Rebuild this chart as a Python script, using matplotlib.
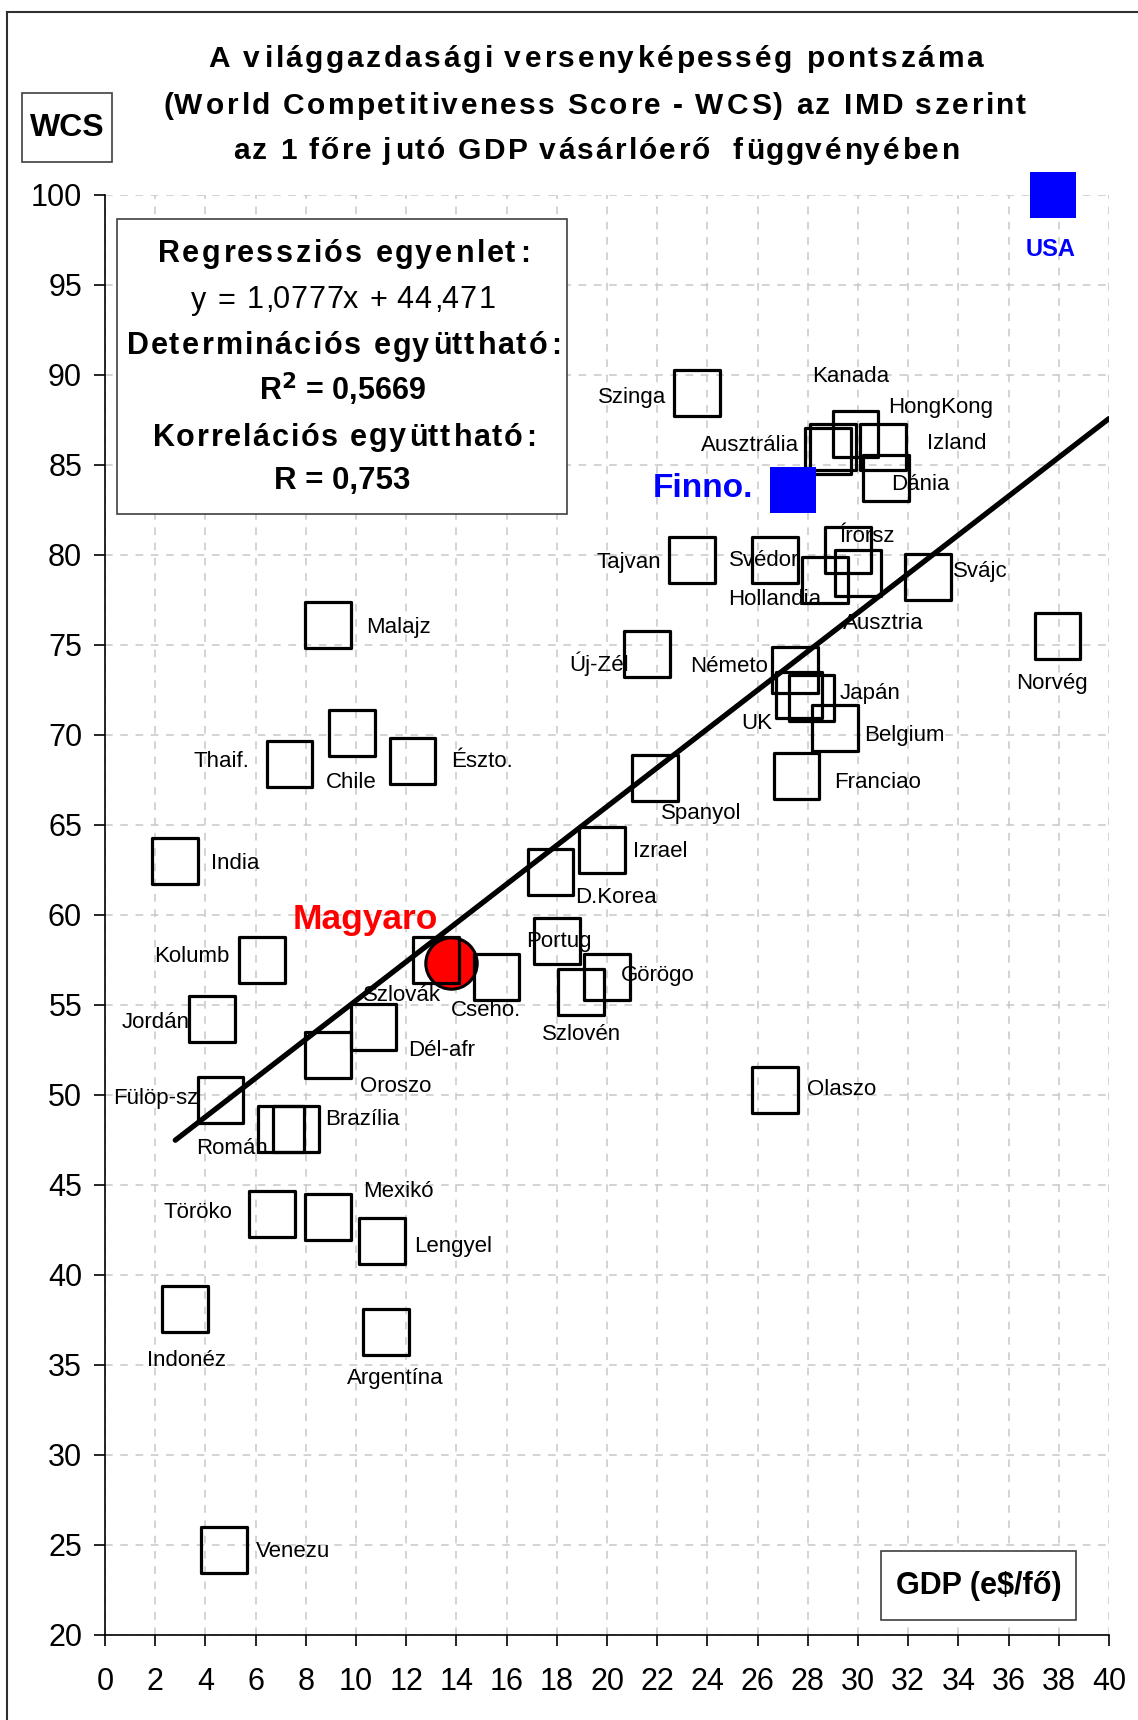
import matplotlib
matplotlib.use('Agg')
import matplotlib.pyplot as plt
from matplotlib.patches import Rectangle
from matplotlib.font_manager import FontProperties, findfont, get_font
import numpy as np

plt.rcParams['font.family'] = ['Liberation Sans', 'DejaVu Sans']

# orszagok: GDP (e$/fo) es WCS pontszam
orszag = ['Szinga', 'Kanada', 'HongKong', 'Ausztrália', 'Izland', 'Dánia',
          'Tajvan', 'Svédor', 'Hollandia', 'Írorsz', 'Ausztria', 'Svájc',
          'Norvég', 'Új-Zél', 'Németo', 'UK', 'Japán', 'Belgium', 'Franciao',
          'Spanyol', 'Izrael', 'D.Korea', 'Portug', 'Görögo', 'Szlovén',
          'Olaszo', 'Malajz', 'Thaif.', 'Chile', 'Észto.', 'India', 'Kolumb',
          'Jordán', 'Szlovák', 'Cseho.', 'Dél-afr', 'Oroszo', 'Fülöp-sz',
          'Román', 'Brazília', 'Töröko', 'Mexikó', 'Lengyel', 'Indonéz',
          'Argentína', 'Venezu']
gdp = [23.6, 29.9, 31.0, 28.8, 29.0, 31.1,
       23.4, 26.7, 28.7, 29.6, 30.0, 32.8,
       37.95, 21.6, 27.5, 27.65, 28.15, 29.1, 27.55,
       21.9, 19.8, 17.75, 18.0, 20.0, 18.95,
       26.7, 8.9, 7.35, 9.85, 12.25, 2.8, 6.25,
       4.25, 13.2, 15.6, 10.7, 8.9, 4.6,
       7.0, 7.6, 6.65, 8.9, 11.05, 3.2,
       11.2, 4.75]
wcs = [89.0, 86.7, 86.0, 85.8, 86.0, 84.3,
       79.7, 79.7, 78.6, 80.3, 79.0, 78.8,
       75.5, 74.5, 73.6, 72.2, 72.05, 70.4, 67.7,
       67.6, 63.6, 62.4, 58.55, 56.55, 55.7,
       50.3, 76.1, 68.4, 70.1, 68.55, 63.0, 57.5,
       54.2, 57.5, 56.55, 53.8, 52.2, 49.7,
       48.1, 48.1, 43.4, 43.2, 41.9, 38.1,
       36.85, 24.7]

# kiemelt orszagok
usa = (37.77, 100.0)
finn = (27.4, 83.6)
magyar = (13.8, 57.35)

# regresszio
meredekseg = 1.0777
tengely = 44.471
trend_x = [2.8, 40.0]

# cimkek helye (adat koordinatakban), igazitas
cimke = {
    'Szinga': (22.36, 88.76, 'right'), 'Kanada': (29.7, 89.92, 'center'),
    'HongKong': (31.19, 88.2, 'left'), 'Ausztrália': (27.64, 86.08, 'right'),
    'Izland': (32.76, 86.2, 'left'), 'Dánia': (31.32, 83.9, 'left'),
    'Tajvan': (22.14, 79.56, 'right'), 'Svédor': (24.85, 79.68, 'left'),
    'Hollandia': (26.68, 77.54, 'center'), 'Írorsz': (30.35, 81.0, 'center'),
    'Ausztria': (29.4, 76.2, 'left'), 'Svájc': (33.77, 79.07, 'left'),
    'Norvég': (37.74, 72.85, 'center'), 'Új-Zél': (20.87, 73.95, 'right'),
    'Németo': (26.42, 73.83, 'right'), 'UK': (25.98, 70.66, 'center'),
    'Japán': (29.26, 72.3, 'left'), 'Belgium': (30.23, 69.98, 'left'),
    'Franciao': (29.04, 67.37, 'left'), 'Spanyol': (23.75, 65.66, 'center'),
    'Izrael': (21.04, 63.52, 'left'), 'D.Korea': (18.73, 60.96, 'left'),
    'Portug': (18.07, 58.52, 'center'), 'Görögo': (20.56, 56.63, 'left'),
    'Szlovén': (18.99, 53.34, 'center'), 'Olaszo': (27.95, 50.29, 'left'),
    'Malajz': (10.42, 75.96, 'left'), 'Thaif.': (5.74, 68.52, 'right'),
    'Chile': (9.81, 67.37, 'center'), 'Észto.': (13.79, 68.52, 'left'),
    'India': (4.21, 62.85, 'left'), 'Kolumb': (4.95, 57.67, 'right'),
    'Jordán': (3.38, 54.01, 'right'), 'Szlovák': (11.82, 55.54, 'center'),
    'Cseho.': (15.18, 54.68, 'center'), 'Dél-afr': (12.08, 52.49, 'left'),
    'Oroszo': (10.16, 50.48, 'left'), 'Fülöp-sz': (3.73, 49.8, 'right'),
    'Román': (5.04, 47.0, 'center'), 'Brazília': (8.76, 48.65, 'left'),
    'Töröko': (3.69, 43.47, 'center'), 'Mexikó': (11.69, 44.62, 'center'),
    'Lengyel': (12.3, 41.58, 'left'), 'Indonéz': (3.25, 35.23, 'center'),
    'Argentína': (11.56, 34.26, 'center'), 'Venezu': (6.0, 24.63, 'left'),
}

W, H = 1138, 1720
DPI = 100

fig = plt.figure(figsize=(W / DPI, H / DPI), dpi=DPI)
renderer = fig.canvas.get_renderer()


def ritkitott(ax, cx, base, s, size, weight, szelesseg, color='black'):
    # beturitkitott szoveg (Excel stilus), pixel koordinatakban
    prop = FontProperties(family='Liberation Sans', weight=weight, size=size)
    font = get_font(findfont(prop))
    font.set_size(size, DPI)
    adv, lsb = [], []
    for c in s:
        g = font.load_char(ord(c))
        adv.append(g.linearHoriAdvance / 65536)
        lsb.append(g.horiBearingX / 64)
    # hinting faktor kiigazitasa: a teljes szoveg valodi szelessegehez
    w_valodi = renderer.get_text_width_height_descent(s, prop, ismath=False)[0]
    k = w_valodi / sum(adv)
    adv = [a * k for a in adv]
    lsb = [b * k for b in lsb]
    extra = (szelesseg - sum(adv)) / (len(s) - 1)
    x = cx - szelesseg / 2
    for c, a, b in zip(s, adv, lsb):
        if c != ' ':
            ax.text(x + b, base, c, fontproperties=prop, color=color,
                    ha='left', va='baseline')
        x += a + extra


ax = fig.add_axes([105 / W, 85 / H, 1004 / W, 1440 / H])

ax.set_xlim(0, 40)
ax.set_ylim(20, 100)
ax.set_xticks(np.arange(0, 41, 2))
ax.set_yticks(np.arange(20, 101, 5))
ax.grid(True, color='#c8c8c8', linestyle=(0, (5, 5)), linewidth=1.1)
ax.set_axisbelow(True)
for s in ['top', 'right']:
    ax.spines[s].set_visible(False)
for s in ['left', 'bottom']:
    ax.spines[s].set_linewidth(1.2)
ax.tick_params(axis='both', labelsize=22, length=8, width=1.2)
ax.tick_params(axis='y', pad=8.5)
ax.tick_params(axis='x', pad=15)

# trendvonal
tx = np.array(trend_x)
ax.plot(tx, meredekseg * tx + tengely, color='black', lw=3.8, zorder=4,
        solid_capstyle='round')

ax.scatter([magyar[0]], [magyar[1]], marker='o', s=37 ** 2, facecolor='#ff0000',
           edgecolor='black', linewidths=2.2, zorder=2)
ax.scatter(gdp, wcs, marker='s', s=33 ** 2, facecolors='none',
           edgecolors='black', linewidths=2.3, zorder=3, clip_on=False)
ax.scatter([usa[0], finn[0]], [usa[1], finn[1]], marker='s', s=33 ** 2,
           color='#0000ff', linewidths=0, zorder=3, clip_on=False)

for nev in orszag:
    x, y, ha = cimke[nev]
    ax.text(x, y, nev, fontsize=16, ha=ha, va='center', zorder=5)

ax.text(37.66, 97.0, 'USA', fontsize=17, fontweight='bold', color='#0000ff',
        ha='center', va='center')
ax.text(25.81, 83.7, 'Finno.', fontsize=24, fontweight='bold',
        color='#0000ff', ha='right', va='center')
ax.text(10.38, 59.74, 'Magyaro', fontsize=25.5, fontweight='bold',
        color='#ff0000', ha='center', va='center')

# felso reteg a feliratoknak, pixel koordinatakban
ov = fig.add_axes([0, 0, 1, 1], zorder=10)
ov.set_xlim(0, W)
ov.set_ylim(H, 0)
ov.axis('off')
ov.patch.set_alpha(0)

ov.plot([7, 7], [12, H + 5], color='#303030', lw=1.5, clip_on=False)
ov.plot([7, W + 5], [12, 12], color='#303030', lw=1.5, clip_on=False)

cim = ['A világgazdasági versenyképesség pontszáma',
       '(World Competitiveness Score - WCS) az IMD szerint',
       'az 1 főre jutó GDP vásárlóerő  függvényében']
cim_x = [595, 593.5, 595]
cim_base = [67, 113.5, 159]
cim_szel = [774, 863, 726]
for sor, cx, b, w in zip(cim, cim_x, cim_base, cim_szel):
    ritkitott(ov, cx, b, sor, 21.5, 'bold', w)

ov.add_patch(Rectangle((22, 93), 90, 69, facecolor='white',
                       edgecolor='#404040', lw=1.2))
ov.text(67, 128, 'WCS', fontsize=23, fontweight='bold', ha='center',
        va='center')

ov.add_patch(Rectangle((117, 219), 450, 295, facecolor='white',
                       edgecolor='#404040', lw=1.2))
ritkitott(ov, 342, 262, 'Regressziós egyenlet:', 22, 'bold', 371)
ritkitott(ov, 342, 308.5, 'y = 1,0777x + 44,471', 22, 'normal', 302)
ritkitott(ov, 342, 354.5, 'Determinációs együttható:', 22, 'bold', 433)
ov.text(342, 400, 'R$^{\\mathbf{2}}$ = 0,5669', fontsize=22,
        fontweight='bold', ha='center', va='baseline')
ritkitott(ov, 342, 445.5, 'Korrelációs együttható:', 22, 'bold', 383)
ov.text(342, 489, 'R = 0,753', fontsize=22.5, fontweight='bold',
        ha='center', va='baseline')

ov.add_patch(Rectangle((881, 1551), 195, 69, facecolor='white',
                       edgecolor='#404040', lw=1.2))
ov.text(978.5, 1586, 'GDP (e$/fő)', fontsize=22, fontweight='bold',
        ha='center', va='center')

fig.savefig('out.png', dpi=DPI, facecolor='white')
